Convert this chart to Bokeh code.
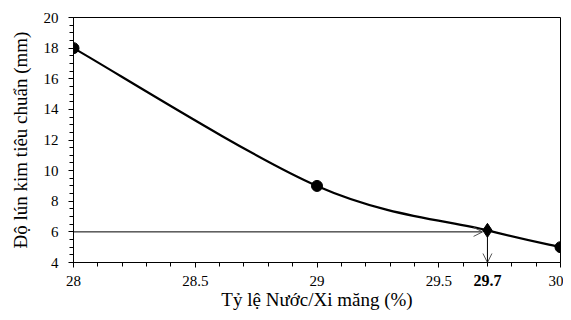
import numpy as np
from bokeh.plotting import figure
from bokeh.models import SingleIntervalTicker, Arrow, OpenHead, Range1d
from bokeh.core.properties import value
from bokeh.embed import file_html
from bokeh.resources import INLINE

# data
ratio = [28.0, 29.0, 29.7, 30.0]
depth = [18.0, 9.0, 6.1, 5.0]
target_ratio = 29.7
target_depth = 6.0
x_label = "Tỷ lệ Nước/Xi măng (%)"
y_label = "Độ lún kim tiêu chuẩn (mm)"

FONT = "Liberation Serif"

p = figure(width=563, height=312, output_backend="svg", toolbar_location=None,
           x_range=Range1d(28, 30), y_range=Range1d(4, 20),
           min_border_left=73, min_border_right=3, min_border_top=17, min_border_bottom=50)
p.xgrid.visible = False
p.ygrid.visible = False
p.outline_line_color = "black"
p.outline_line_width = 1
p.background_fill_color = "white"
p.border_fill_color = "white"

# smooth curve (Catmull-Rom -> cubic Bezier)
xs = np.array(ratio)
ys = np.array(depth)
n = len(xs)
px = np.concatenate([[xs[0]], xs, [xs[-1]]])
py = np.concatenate([[ys[0]], ys, [ys[-1]]])
x0, y0, x1, y1, cx0, cy0, cx1, cy1 = [], [], [], [], [], [], [], []
for i in range(n - 1):
    a, b, c, d = i, i + 1, i + 2, i + 3
    x0.append(px[b]); y0.append(py[b]); x1.append(px[c]); y1.append(py[c])
    cx0.append(px[b] + (px[c] - px[a]) / 6); cy0.append(py[b] + (py[c] - py[a]) / 6)
    cx1.append(px[c] - (px[d] - px[b]) / 6); cy1.append(py[c] - (py[d] - py[b]) / 6)
p.bezier(x0=x0, y0=y0, x1=x1, y1=y1, cx0=cx0, cy0=cy0, cx1=cx1, cy1=cy1,
         line_color="black", line_width=2.2)

others = [i for i in range(n) if ratio[i] != target_ratio]
p.scatter([ratio[i] for i in others], [depth[i] for i in others], size=11,
          marker="circle", color="black")
p.scatter([target_ratio], [depth[ratio.index(target_ratio)]], size=14,
          marker="diamond", color="black")

# arrows
p.add_layout(Arrow(end=OpenHead(size=9, line_width=1, line_color="#555555"),
                   x_start=28, y_start=target_depth, x_end=target_ratio - 0.02, y_end=target_depth,
                   line_color="black", line_width=1))
p.add_layout(Arrow(end=OpenHead(size=9, line_width=1, line_color="#555555"),
                   x_start=target_ratio, y_start=target_depth, x_end=target_ratio, y_end=4,
                   line_color="black", line_width=1))

for ax in (p.xaxis, p.yaxis):
    ax.axis_line_color = "black"
    ax.major_tick_line_color = "black"
    ax.minor_tick_line_color = "black"
    ax.major_tick_line_width = 1
    ax.minor_tick_line_width = 1
    ax.major_tick_in = 0
    ax.major_tick_out = 5
    ax.minor_tick_in = 0
    ax.minor_tick_out = 4
    ax.major_label_text_font = FONT
    ax.major_label_text_font_size = "15px"
    ax.major_label_text_color = "black"
    ax.axis_label_text_font = FONT
    ax.axis_label_text_font_size = "19px"
    ax.axis_label_text_font_style = "normal"
    ax.axis_label_text_color = "black"

p.xaxis.ticker = SingleIntervalTicker(interval=0.5, num_minor_ticks=5)
p.yaxis.ticker = SingleIntervalTicker(interval=2, num_minor_ticks=4)
p.xaxis.axis_label = x_label
p.yaxis.axis_label = y_label
p.xaxis.major_label_standoff = 8
p.yaxis.major_label_standoff = 10
p.xaxis.axis_label_standoff = 0
p.yaxis.axis_label_standoff = 10

p.text(x=[target_ratio], y=[4], text=[str(target_ratio)], text_font=value(FONT),
       text_font_size="16px", text_font_style="bold", text_align="center",
       text_baseline="top", y_offset=12, text_color="black", level="overlay")

open("out.html", "w").write(file_html(p, INLINE))
